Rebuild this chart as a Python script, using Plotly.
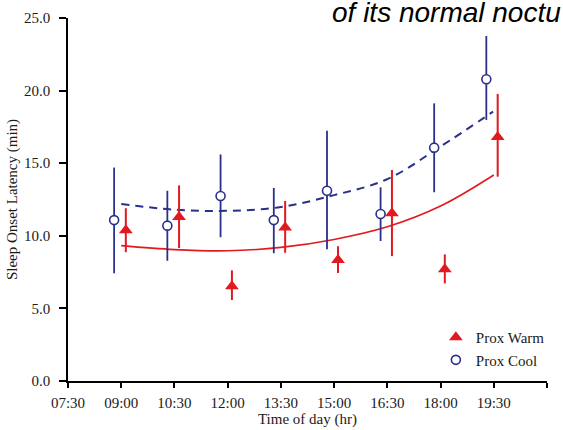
import plotly.graph_objects as go

# ---- data ----
tick_vals = [7.5, 9, 10.5, 12, 13.5, 15, 16.5, 18, 19.5, 21]
tick_text = ["07:30", "09:00", "10:30", "12:00", "13:30", "15:00", "16:30", "18:00", "19:30", "21:00"]
y_ticks = [0, 5, 10, 15, 20, 25]
y_tick_text = ["0.0", "5.0", "10.0", "15.0", "20.0", "25.0"]

warm_time = [9.13, 10.63, 12.12, 13.62, 15.11, 16.63, 18.12, 19.61]
warm_val = [10.38, 11.30, 6.53, 10.58, 8.33, 11.55, 7.69, 16.80]
warm_hi = [11.90, 13.47, 7.62, 12.40, 9.28, 14.53, 8.72, 19.77]
warm_lo = [8.87, 9.16, 5.58, 8.83, 7.44, 8.60, 6.72, 14.07]

cool_time = [8.80, 10.30, 11.80, 13.30, 14.80, 16.31, 17.82, 19.29]
cool_val = [11.08, 10.70, 12.74, 11.08, 13.10, 11.50, 16.07, 20.78]
cool_hi = [14.70, 13.10, 15.60, 13.30, 17.24, 13.34, 19.12, 23.76]
cool_lo = [7.42, 8.28, 9.90, 8.80, 9.07, 9.64, 13.00, 17.98]

warm_fit_t = [9.0, 10.5, 12.0, 13.5, 15.0, 16.5, 18.0, 19.5]
warm_fit_v = [9.32, 9.05, 8.97, 9.20, 9.75, 10.62, 12.05, 14.19]
cool_fit_t = [9.0, 10.5, 12.0, 13.5, 15.0, 16.5, 18.0, 19.48]
cool_fit_v = [12.19, 11.80, 11.72, 11.98, 12.80, 13.90, 16.15, 18.55]

RED = "#e2191f"
BLUE = "#28308a"
SERIF = "Liberation Serif"
TXT = "#1a1a1a"

fig = go.Figure()

fig.add_trace(go.Scatter(
    x=cool_fit_t, y=cool_fit_v, mode="lines", line_shape="spline",
    line=dict(color=BLUE, width=2, dash="8px,6px"), showlegend=False, hoverinfo="skip"))
fig.add_trace(go.Scatter(
    x=warm_fit_t, y=warm_fit_v, mode="lines", line_shape="spline",
    line=dict(color=RED, width=1.6), showlegend=False, hoverinfo="skip"))

fig.add_trace(go.Scatter(
    x=warm_time, y=warm_val, mode="markers", name="Prox Warm",
    marker=dict(symbol="triangle-up", size=12, color=RED, line=dict(width=0)),
    error_y=dict(type="data", symmetric=False,
                 array=[h - v for h, v in zip(warm_hi, warm_val)],
                 arrayminus=[v - l for v, l in zip(warm_val, warm_lo)],
                 color=RED, thickness=2, width=0)))
fig.add_trace(go.Scatter(
    x=cool_time, y=cool_val, mode="markers", name="Prox Cool",
    marker=dict(symbol="circle", size=9, color="white", line=dict(color=BLUE, width=1.6)),
    error_y=dict(type="data", symmetric=False,
                 array=[h - v for h, v in zip(cool_hi, cool_val)],
                 arrayminus=[v - l for v, l in zip(cool_val, cool_lo)],
                 color=BLUE, thickness=1.8, width=0)))

fig.update_layout(
    width=563, height=430,
    margin=dict(l=68, r=16, t=18, b=49),
    paper_bgcolor="white", plot_bgcolor="white",
    font=dict(family=SERIF, size=15, color=TXT),
    showlegend=True,
    legend=dict(x=0.768, y=0.165, xanchor="left", yanchor="top",
                bgcolor="rgba(0,0,0,0)", font=dict(family=SERIF, size=15, color=TXT),
                itemwidth=30, tracegroupgap=0),
    xaxis=dict(range=[7.5, 21], tickmode="array", tickvals=tick_vals, ticktext=tick_text,
               showgrid=False, zeroline=False, showline=True, linecolor="black", linewidth=1.5,
               ticks="outside", ticklen=5, tickwidth=1.5, tickcolor="black",
               ticklabelstandoff=2, automargin=False,
               title=dict(text="Time of day (hr)", font=dict(family=SERIF, size=15), standoff=4)),
    yaxis=dict(range=[0, 25], tickmode="array", tickvals=y_ticks, ticktext=y_tick_text,
               showgrid=False, zeroline=False, showline=True, linecolor="black", linewidth=1.5,
               ticks="outside", ticklen=7, tickwidth=1.5, tickcolor="black",
               ticklabelstandoff=6, automargin=False,
               title=dict(text="Sleep Onset Latency (min)", font=dict(family=SERIF, size=15), standoff=3)),
)

fig.add_annotation(
    text="<i>of its normal noctu</i>", xref="paper", yref="paper",
    x=(330 - 68) / 479, y=1.0 + 6 / 363, xanchor="left", yanchor="middle",
    showarrow=False, font=dict(family="Liberation Sans", size=28, color="black"))

# remove the browser's default 8px body margin so the figure fills the window
fig.write_html("out.html",
               config={"displayModeBar": False},
               post_script="document.body.style.margin='0';document.body.style.overflow='hidden';")
